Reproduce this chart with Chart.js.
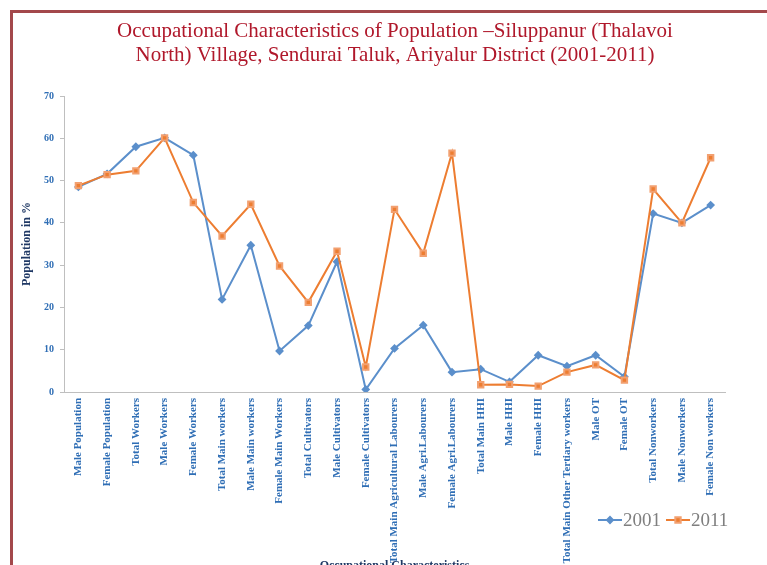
<!DOCTYPE html>
<html>
<head>
<meta charset="utf-8">
<script src="https://cdn.jsdelivr.net/npm/chart.js@4.4.0/dist/chart.umd.min.js"></script>
<style>
  html, body { margin: 0; padding: 0; background: #fff; overflow: hidden; }
  #wrap { position: relative; width: 767px; height: 565px; overflow: hidden; }
  #frame { position: absolute; left: 10px; top: 10px; width: 800px; height: 600px;
           border-left: 3px solid #A3484B; border-top: 3px solid #A3484B; }
  #occChart { position: absolute; left: 0; top: 0; }
</style>
</head>
<body>
<div id="wrap">
  <div id="frame"></div>
  <canvas id="occChart" width="767" height="580"></canvas>
</div>
<script>
// Chart data (in %)
const categories = [
  "Male Population", "Female Population", "Total Workers", "Male Workers",
  "Female Workers", "Total Main workers", "Male Main workers", "Female Main Workers",
  "Total Cultivators", "Male Cultivators", "Female Cultivators",
  "Total Main Agricultural Labourers", "Male Agri.Labourers", "Female Agri.Labourers",
  "Total Main HHI", "Male HHI", "Female HHI", "Total Main Other Tertiary workers",
  "Male OT", "Female OT", "Total Nonworkers", "Male Nonworkers", "Female Non workers"
];
const series2001 = [48.5, 51.6, 58.0, 60.1, 56.0, 21.9, 34.7, 9.7, 15.7, 30.8, 0.6,
  10.3, 15.8, 4.7, 5.4, 2.4, 8.7, 6.1, 8.7, 3.6, 42.2, 40.0, 44.2];
const series2011 = [48.8, 51.4, 52.3, 60.1, 44.8, 36.9, 44.4, 29.8, 21.2, 33.3, 5.9,
  43.2, 32.8, 56.5, 1.7, 1.8, 1.4, 4.7, 6.4, 2.8, 48.0, 40.0, 55.4];
const seriesNames = ["2001", "2011"];
const yTicks = [0, 10, 20, 30, 40, 50, 60, 70];

const titleLines = [
  "Occupational Characteristics of Population \u2013Siluppanur (Thalavoi",
  "North) Village, Sendurai Taluk, Ariyalur District (2001-2011)"
];

const SERIF = "'Liberation Serif', 'Times New Roman', serif";
const tickBlue = "#2F6EB5";
const navy = "#1F3864";

Chart.defaults.font.family = SERIF;

// Title drawn at fixed place, centred on the page like the original
const titlePlugin = {
  id: "pageTitle",
  afterDraw(chart) {
    const ctx = chart.ctx;
    ctx.save();
    ctx.font = "21px " + SERIF;
    ctx.fillStyle = "#B0182B";
    ctx.textAlign = "center";
    ctx.textBaseline = "middle";
    titleLines.forEach((line, i) => ctx.fillText(line, 395, 31 + i * 24));
    ctx.restore();
  }
};

// Legend at bottom right, line + marker + label
const legendPlugin = {
  id: "sideLegend",
  afterDraw(chart) {
    const ctx = chart.ctx;
    const y = 520;
    let x = 598;
    ctx.save();
    chart.data.datasets.forEach((ds) => {
      ctx.strokeStyle = ds.borderColor;
      ctx.lineWidth = ds.borderWidth;
      ctx.beginPath();
      ctx.moveTo(x, y);
      ctx.lineTo(x + 24, y);
      ctx.stroke();
      ctx.fillStyle = ds.pointBackgroundColor;
      ctx.strokeStyle = ds.pointBorderColor;
      Chart.helpers.drawPoint(ctx, { pointStyle: ds.pointStyle, radius: ds.pointRadius, rotation: 0, borderWidth: 1 }, x + 12, y);
      ctx.font = "19px " + SERIF;
      ctx.fillStyle = "#7F7F7F";
      ctx.textAlign = "left";
      ctx.textBaseline = "middle";
      ctx.fillText(ds.label, x + 25, y + 1);
      x += 68;
    });
    ctx.restore();
  }
};

const ctx = document.getElementById("occChart").getContext("2d");
new Chart(ctx, {
  type: "line",
  data: {
    labels: categories,
    datasets: [
      {
        label: seriesNames[0],
        data: series2001,
        order: 1,
        borderColor: "#5B8FCB",
        backgroundColor: "#5B8FCB",
        pointBackgroundColor: "#5B8FCB",
        pointBorderColor: "#5B8FCB",
        borderWidth: 2,
        pointStyle: "rectRot",
        pointRadius: 3,
        tension: 0,
      },
      {
        label: seriesNames[1],
        data: series2011,
        order: 0,
        borderColor: "#ED7D31",
        backgroundColor: "#ED7D31",
        pointBackgroundColor: "#ED7D31",
        pointBorderColor: "#F2A070",
        borderWidth: 2,
        pointStyle: "rect",
        pointRadius: 3.8,
        tension: 0,
      },
    ],
  },
  options: {
    responsive: false,
    animation: false,
    layout: { padding: { left: 20, right: 42, top: 96, bottom: 0 } },
    plugins: {
      legend: { display: false },
      title: { display: false },
      tooltip: { enabled: false },
    },
    scales: {
      x: {
        offset: true,
        afterFit: (scale) => { scale.height = 188; },
        grid: { drawOnChartArea: false, drawTicks: false },
        border: { color: "#BFBFBF", width: 1 },
        ticks: {
          autoSkip: false,
          minRotation: 90,
          maxRotation: 90,
          padding: 6,
          color: tickBlue,
          font: { size: 11, weight: "bold", family: SERIF },
        },
        title: {
          display: true,
          text: "Occupational Characteristics",
          color: navy,
          font: { size: 12, weight: "bold", family: SERIF },
          padding: { top: 0, bottom: 7 },
        },
      },
      y: {
        min: yTicks[0],
        max: yTicks[yTicks.length - 1],
        afterFit: (scale) => { scale.width = 44; },
        afterBuildTicks: (scale) => { scale.ticks = yTicks.map((v) => ({ value: v })); },
        grid: { drawOnChartArea: false, drawTicks: true, tickLength: 4, color: "#BFBFBF" },
        border: { color: "#BFBFBF", width: 1 },
        ticks: {
          padding: 6,
          color: tickBlue,
          font: { size: 10, weight: "bold", family: SERIF },
        },
        title: {
          display: true,
          text: "Population in %",
          color: navy,
          font: { size: 12, weight: "bold", family: SERIF },
          padding: { top: 0, bottom: 0 },
        },
      },
    },
  },
  plugins: [titlePlugin, legendPlugin],
});
</script>
</body>
</html>
